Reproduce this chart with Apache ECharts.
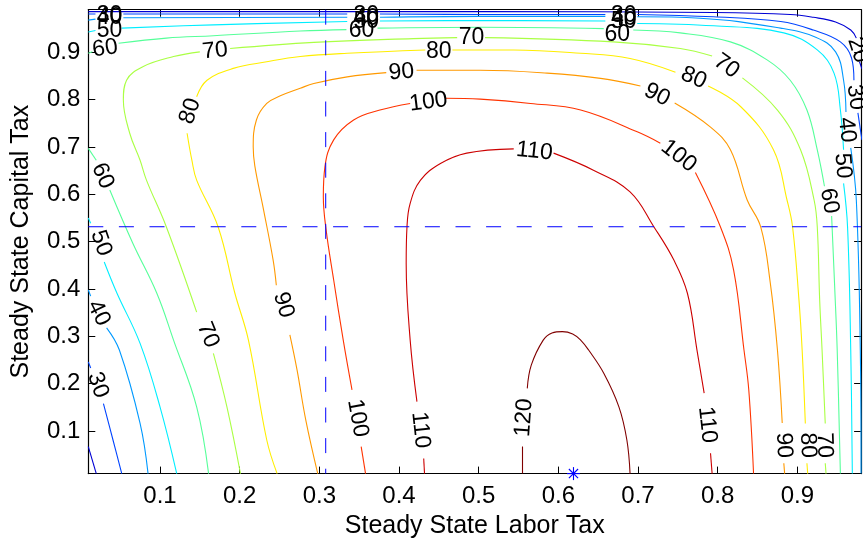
<!DOCTYPE html>
<html><head><meta charset="utf-8">
<script src="https://cdn.jsdelivr.net/npm/echarts@6/dist/echarts.min.js"></script>
<style>html,body{margin:0;padding:0;background:#fff}#c{width:863px;height:545px}</style>
</head><body><div id="c"></div>
<script>
const FONT = "'Liberation Sans', Arial, Helvetica, sans-serif";
const xRange = [0.01, 0.98];
const yRange = [0.01, 0.99];
const xTicks = [0.1, 0.2, 0.3, 0.4, 0.5, 0.6, 0.7, 0.8, 0.9];
const xTickLabels = ['0.1','0.2','0.3','0.4','0.5','0.6','0.7','0.8','0.9'];
const yTicks = [0.1, 0.2, 0.3, 0.4, 0.5, 0.6, 0.7, 0.8, 0.9];
const yTickLabels = ['0.1','0.2','0.3','0.4','0.5','0.6','0.7','0.8','0.9'];
const xTitle = 'Steady State Labor Tax';
const yTitle = 'Steady State Capital Tax';

const levels = [20, 30, 40, 50, 60, 70, 80, 90, 100, 110, 120];
const levelColors = ['#0000d4', '#0044ff', '#0099ff', '#00eeff', '#55ff99', '#aaff44', '#ffee00', '#ff9900', '#ff3300', '#cc0000', '#800000'];

// contour segments: [labor tax, capital tax]
const c20 = [
  [[0.010,0.067],[0.020,0.010]],
  [[0.010,0.986],[0.502,0.986],[0.795,0.984],[0.891,0.980],[0.920,0.974],[0.948,0.964],[0.967,0.947],[0.974,0.930]],
  [[0.978,0.880],[0.981,0.865]]
];
const c30 = [
  [[0.010,0.246],[0.013,0.233]],
  [[0.029,0.158],[0.041,0.081],[0.052,0.010]],
  [[0.010,0.981],[0.019,0.981]],
  [[0.054,0.981],[0.335,0.981]],
  [[0.376,0.981],[0.502,0.980],[0.659,0.980]],
  [[0.699,0.980],[0.795,0.975],[0.879,0.965],[0.920,0.947],[0.954,0.922],[0.968,0.888],[0.971,0.841]],
  [[0.976,0.772],[0.981,0.715]]
];
const c40 = [
  [[0.010,0.398],[0.013,0.385]],
  [[0.033,0.318],[0.049,0.271],[0.075,0.116],[0.085,0.010]],
  [[0.010,0.968],[0.019,0.970]],
  [[0.054,0.973],[0.335,0.974]],
  [[0.376,0.974],[0.502,0.976],[0.659,0.976]],
  [[0.699,0.975],[0.778,0.972],[0.879,0.951],[0.923,0.932],[0.948,0.901],[0.958,0.841],[0.961,0.774]],
  [[0.967,0.698],[0.974,0.588],[0.979,0.271],[0.980,0.010]]
];
const c50 = [
  [[0.010,0.550],[0.013,0.539]],
  [[0.030,0.457],[0.046,0.391],[0.075,0.285],[0.100,0.151],[0.121,0.010]],
  [[0.010,0.943],[0.019,0.946]],
  [[0.052,0.951],[0.167,0.958],[0.335,0.965]],
  [[0.376,0.966],[0.502,0.967],[0.659,0.966]],
  [[0.699,0.961],[0.795,0.956],[0.883,0.941],[0.925,0.905],[0.946,0.856],[0.954,0.778],[0.958,0.694]],
  [[0.958,0.623],[0.963,0.531],[0.967,0.271],[0.969,0.010]]
];
const c60 = [
  [[0.010,0.697],[0.020,0.672]],
  [[0.037,0.609],[0.066,0.496],[0.096,0.391],[0.117,0.292],[0.146,0.151],[0.161,0.010]],
  [[0.010,0.898],[0.015,0.901]],
  [[0.048,0.919],[0.108,0.930],[0.167,0.935],[0.276,0.945],[0.334,0.948]],
  [[0.373,0.951],[0.502,0.953],[0.657,0.950]],
  [[0.694,0.947],[0.753,0.941],[0.816,0.922],[0.862,0.884],[0.891,0.841],[0.912,0.778],[0.925,0.694],[0.934,0.617]],
  [[0.943,0.554],[0.947,0.398],[0.950,0.271],[0.954,0.010]]
];
const c70 = [
  [[0.201,0.010],[0.184,0.151],[0.167,0.264]],
  [[0.146,0.351],[0.108,0.531],[0.083,0.630],[0.075,0.672],[0.062,0.729],[0.054,0.799],[0.058,0.841],[0.079,0.870],[0.117,0.891],[0.150,0.901]],
  [[0.188,0.908],[0.293,0.921],[0.418,0.929],[0.473,0.931]],
  [[0.508,0.931],[0.669,0.922],[0.753,0.908],[0.793,0.892]],
  [[0.831,0.846],[0.875,0.778],[0.904,0.694],[0.921,0.588],[0.925,0.531],[0.928,0.377],[0.931,0.271],[0.935,0.116]],
  [[0.935,0.032],[0.936,0.010]]
];
const c80 = [
  [[0.247,0.010],[0.234,0.081],[0.211,0.292],[0.194,0.391],[0.173,0.531],[0.146,0.630],[0.140,0.672],[0.134,0.729]],
  [[0.146,0.806],[0.159,0.841],[0.192,0.866],[0.234,0.880],[0.276,0.891],[0.335,0.898],[0.433,0.905]],
  [[0.467,0.905],[0.544,0.905],[0.628,0.898],[0.690,0.887],[0.747,0.858]],
  [[0.788,0.829],[0.829,0.785],[0.870,0.694],[0.887,0.588],[0.894,0.531],[0.902,0.377],[0.906,0.271],[0.910,0.116]],
  [[0.912,0.032],[0.913,0.010]]
];
const c90 = [
  [[0.298,0.010],[0.283,0.123],[0.272,0.229],[0.263,0.303]],
  [[0.246,0.408],[0.242,0.461],[0.230,0.567],[0.219,0.660],[0.217,0.700],[0.221,0.757],[0.234,0.792],[0.251,0.808],[0.276,0.824],[0.293,0.834],[0.335,0.848],[0.384,0.857]],
  [[0.422,0.862],[0.502,0.862],[0.586,0.856],[0.653,0.845],[0.703,0.829]],
  [[0.746,0.793],[0.791,0.742],[0.816,0.694],[0.837,0.588],[0.854,0.531],[0.866,0.413],[0.875,0.271],[0.881,0.117]],
  [[0.883,0.032],[0.884,0.010]]
];
const c100 = [
  [[0.358,0.010],[0.3525,0.067]],
  [[0.341,0.187],[0.330,0.292],[0.318,0.419],[0.3085,0.525],[0.305,0.595],[0.307,0.658],[0.318,0.715],[0.343,0.757],[0.376,0.778],[0.414,0.792]],
  [[0.458,0.803],[0.502,0.801],[0.565,0.792],[0.628,0.778],[0.699,0.732],[0.728,0.708]],
  [[0.772,0.646],[0.8035,0.531],[0.820,0.440],[0.833,0.271],[0.839,0.187],[0.845,0.010]]
];
const c110 = [
  [[0.432,0.010],[0.431,0.042]],
  [[0.4225,0.162],[0.414,0.292],[0.409,0.454],[0.410,0.531],[0.414,0.581],[0.427,0.630],[0.452,0.665],[0.485,0.687],[0.544,0.696]],
  [[0.594,0.687],[0.644,0.651],[0.690,0.605],[0.720,0.531],[0.745,0.461],[0.762,0.391],[0.774,0.271],[0.783,0.180]],
  [[0.791,0.053],[0.793,0.010]]
];
const c120 = [
  [[0.555,0.010],[0.555,0.067]],
  [[0.561,0.190],[0.566,0.239],[0.581,0.292],[0.592,0.307],[0.605,0.310],[0.618,0.305],[0.628,0.292],[0.638,0.271],[0.657,0.222],[0.676,0.151],[0.686,0.081],[0.690,0.010]]
];

// inline labels: [labor tax, capital tax, angle]
const lab20 = [[0.976,0.905,-72]];
const lab30 = [[0.022,0.197,-71],[0.0366,0.978,0],[0.359,0.977,0],[0.682,0.977,0],[0.973,0.805,-82]];
const lab40 = [[0.023,0.349,-64],[0.0366,0.973,0],[0.359,0.972,0],[0.682,0.972,0],[0.962,0.736,-84]];
const lab50 = [[0.026,0.497,-71],[0.0366,0.946,0],[0.359,0.964,0],[0.682,0.964,0],[0.957,0.660,-86]];
const lab60 = [[0.028,0.639,-66],[0.031,0.908,8],[0.353,0.946,0],[0.674,0.938,0],[0.940,0.586,-80]];
const lab70 = [[0.160,0.303,-68],[0.169,0.903,6],[0.491,0.930,0],[0.811,0.871,-36],[0.934,0.070,-88]];
const lab80 = [[0.138,0.776,72],[0.450,0.901,0],[0.770,0.846,-23],[0.913,0.070,-88]];
const lab90 = [[0.255,0.366,-74],[0.403,0.858,5],[0.724,0.810,-27],[0.883,0.070,-88]];
const lab100 = [[0.348,0.127,-80],[0.437,0.795,7],[0.751,0.681,-38]];
const lab110 = [[0.427,0.102,-84],[0.570,0.691,-6],[0.787,0.113,-84]];
const lab120 = [[0.557,0.128,86]];

const hLineY = 0.5315;
const vLineX = 0.308;
const starPoint = [0.619, 0.01];

const contours = [c20, c30, c40, c50, c60, c70, c80, c90, c100, c110, c120];
const contourLabels = [lab20, lab30, lab40, lab50, lab60, lab70, lab80, lab90, lab100, lab110, lab120];

const series = [];
levels.forEach((lv, i) => {
  contours[i].forEach(seg => {
    series.push({
      type: 'line', data: seg, smooth: 0.4, symbol: 'none', showSymbol: false, silent: true,
      lineStyle: { color: levelColors[i], width: 1.1 }, z: 2, animation: false
    });
  });
});
const dashStyle = { color: '#0000ff', width: 1, type: [15, 15.6] };
series.push({ type: 'line', data: [[xRange[0], hLineY], [xRange[1], hLineY]], symbol: 'none', silent: true, lineStyle: dashStyle, z: 3, animation: false });
series.push({ type: 'line', data: [[vLineX, yRange[1]], [vLineX, yRange[0]]], symbol: 'none', silent: true, lineStyle: dashStyle, z: 3, animation: false });

levels.forEach((lv, i) => {
  series.push({
    type: 'scatter', symbol: 'circle', symbolSize: 1, silent: true, z: 5, animation: false,
    itemStyle: { color: 'rgba(0,0,0,0)', opacity: 1 },
    data: contourLabels[i].map(l => ({ value: [l[0], l[1]], label: { rotate: l[2] } })),
    label: { show: true, position: 'inside', formatter: () => String(lv), fontSize: 23, color: '#000', opacity: 1, textBorderWidth: 0, fontFamily: FONT }
  });
});

series.push({
  type: 'custom', clip: false, z: 6, silent: true, animation: false,
  data: [starPoint],
  renderItem: (params, api) => {
    const p = api.coord([api.value(0), api.value(1)]);
    const r = 6.5, d = 4.6;
    const st = { stroke: '#0000ff', lineWidth: 1.1 };
    return { type: 'group', children: [
      { type: 'line', shape: { x1: p[0], y1: p[1] - r, x2: p[0], y2: p[1] + r }, style: st },
      { type: 'line', shape: { x1: p[0] - r, y1: p[1], x2: p[0] + r, y2: p[1] }, style: st },
      { type: 'line', shape: { x1: p[0] - d, y1: p[1] - d, x2: p[0] + d, y2: p[1] + d }, style: st },
      { type: 'line', shape: { x1: p[0] - d, y1: p[1] + d, x2: p[0] + d, y2: p[1] - d }, style: st }
    ]};
  }
});

const lookup = (ticks, labels) => v => { const k = ticks.findIndex(t => Math.abs(t - v) < 1e-9); return k >= 0 ? labels[k] : ''; };
const axisLineStyle = { show: true, onZero: false, lineStyle: { color: '#000', width: 1.2 } };

const option = {
  backgroundColor: '#fff',
  animation: false,
  grid: { left: 88.3, right: 1.9, top: 9.7, bottom: 71.4, containLabel: false },
  xAxis: [
    { type: 'value', min: xRange[0], max: xRange[1], position: 'bottom', axisLine: axisLineStyle,
      axisTick: { show: true, inside: true, length: 7, customValues: xTicks, lineStyle: { color: '#000' } },
      axisLabel: { show: true, customValues: xTicks, formatter: lookup(xTicks, xTickLabels), fontSize: 24, color: '#000', fontFamily: FONT, margin: 11 },
      splitLine: { show: false },
      name: xTitle, nameLocation: 'middle', nameGap: 38, nameTextStyle: { fontSize: 25, color: '#000', fontFamily: FONT } },
    { type: 'value', min: xRange[0], max: xRange[1], position: 'top', axisLine: axisLineStyle,
      axisTick: { show: true, inside: true, length: 7, customValues: xTicks, lineStyle: { color: '#000' } },
      axisLabel: { show: false }, splitLine: { show: false } }
  ],
  yAxis: [
    { type: 'value', min: yRange[0], max: yRange[1], position: 'left', axisLine: axisLineStyle,
      axisTick: { show: true, inside: true, length: 7, customValues: yTicks, lineStyle: { color: '#000' } },
      axisLabel: { show: true, customValues: yTicks, formatter: lookup(yTicks, yTickLabels), fontSize: 24, color: '#000', fontFamily: FONT, margin: 8 },
      splitLine: { show: false },
      name: yTitle, nameLocation: 'middle', nameGap: 55, nameRotate: 90, nameTextStyle: { fontSize: 25, color: '#000', fontFamily: FONT } },
    { type: 'value', min: yRange[0], max: yRange[1], position: 'right', axisLine: axisLineStyle,
      axisTick: { show: true, inside: true, length: 7, customValues: yTicks, lineStyle: { color: '#000' } },
      axisLabel: { show: false }, splitLine: { show: false } }
  ],
  series: series
};
const chart = echarts.init(document.getElementById('c'), null, { renderer: 'canvas' });
chart.setOption(option);
</script></body></html>
